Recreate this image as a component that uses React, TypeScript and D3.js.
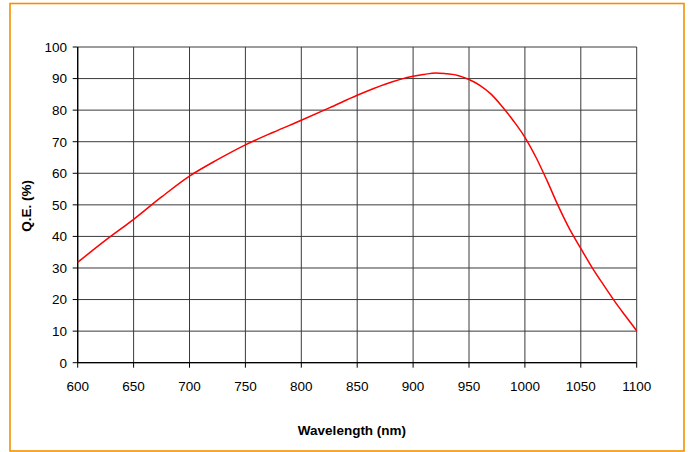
import React from "react";
import * as d3 from "d3";

const wavelengths = [600, 625, 650, 675, 700, 725, 750, 775, 800, 825, 850, 875, 900, 910, 920, 930, 940, 950, 960, 970, 980, 990, 1000, 1010, 1020, 1030, 1040, 1050, 1060, 1070, 1080, 1090, 1100];
const qe = [31.8, 38.8, 45.4, 52.5, 59.1, 64.3, 69.0, 73.0, 76.8, 80.7, 84.7, 88.2, 90.7, 91.3, 91.8, 91.5, 91.0, 89.7, 87.8, 85.0, 81.0, 76.5, 71.4, 65.0, 57.5, 49.5, 42.3, 36.2, 30.2, 24.8, 19.6, 14.8, 10.1];
const xTicks = [600, 650, 700, 750, 800, 850, 900, 950, 1000, 1050, 1100];
const yTicks = [0, 10, 20, 30, 40, 50, 60, 70, 80, 90, 100];

export default function App() {
  const W = 691, H = 452;
  const left = 77.7, right = 636.7, top = 47, bottom = 362.7;
  const x = d3.scaleLinear().domain([600, 1100]).range([left, right]);
  const y = d3.scaleLinear().domain([0, 100]).range([bottom, top]);
  const pts = wavelengths.map((w, i) => [w, qe[i]] as [number, number]);
  const line = d3.line<[number, number]>().x(d => x(d[0])).y(d => y(d[1])).curve(d3.curveMonotoneX);
  const font = "Arial, 'Liberation Sans', sans-serif";
  return (
    <svg width={W} height={H} style={{ position: "absolute", left: 0, top: 0, display: "block" }}>
      <rect x={0} y={0} width={W} height={H} fill="#fff" />
      <rect x={10} y={3.5} width={674} height={447.5} fill="none" stroke="#F39200" strokeWidth={1.6} />
      {yTicks.map(t => (
        <line key={"gy" + t} x1={x(600)} x2={x(1100)} y1={y(t)} y2={y(t)} stroke="#3a3a3a" strokeWidth={1} />
      ))}
      {xTicks.map(t => (
        <line key={"gx" + t} x1={x(t)} x2={x(t)} y1={y(0)} y2={y(100)} stroke="#3a3a3a" strokeWidth={1} />
      ))}
      {yTicks.map(t => (
        <line key={"ty" + t} x1={x(600) - 5} x2={x(600)} y1={y(t)} y2={y(t)} stroke="#000" strokeWidth={1} />
      ))}
      {xTicks.map(t => (
        <line key={"tx" + t} x1={x(t)} x2={x(t)} y1={y(0)} y2={y(0) + 5} stroke="#000" strokeWidth={1} />
      ))}
      <line x1={x(600)} x2={x(600)} y1={y(0)} y2={y(100)} stroke="#000" strokeWidth={1.3} />
      <line x1={x(600)} x2={x(1100)} y1={y(0)} y2={y(0)} stroke="#000" strokeWidth={1.3} />
      {yTicks.map(t => (
        <text key={"ly" + t} x={67} y={y(t)} dy="0.36em" textAnchor="end" fontFamily={font} fontSize={13.5} fill="#000">{t}</text>
      ))}
      {xTicks.map(t => (
        <text key={"lx" + t} x={x(t)} y={390.5} textAnchor="middle" fontFamily={font} fontSize={13.5} fill="#000">{t}</text>
      ))}
      <path d={line(pts) || ""} fill="none" stroke="#FF0000" strokeWidth={1.5} />
      <text x={352} y={435} textAnchor="middle" fontFamily={font} fontSize={13.5} fontWeight="bold" fill="#000">Wavelength (nm)</text>
      <text transform={`translate(31,${(top + bottom) / 2 + 1}) rotate(-90)`} textAnchor="middle" fontFamily={font} fontSize={13.5} fontWeight="bold" fill="#000">Q.E. (%)</text>
    </svg>
  );
}
